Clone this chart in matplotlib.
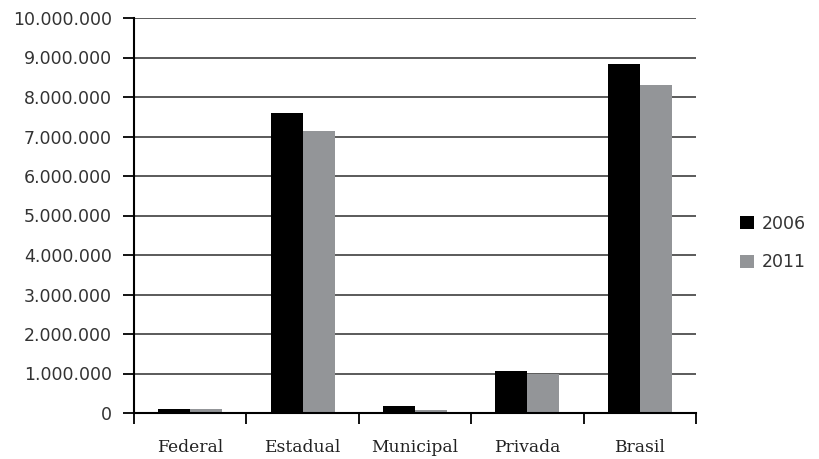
import matplotlib
matplotlib.use("Agg")
import matplotlib.pyplot as plt
from matplotlib.patches import Patch
from matplotlib.ticker import FuncFormatter
import numpy as np

categories = ["Federal", "Estadual", "Municipal", "Privada", "Brasil"]
years = ["2006", "2011"]
values_2006 = [95000, 7590000, 180000, 1060000, 8840000]
values_2011 = [95000, 7140000, 80000, 980000, 8300000]
yticks = list(range(0, 10000001, 1000000))

colors = ["#000000", "#939598"]

fig = plt.figure(figsize=(8.19, 4.59), dpi=100)
W, H = 819, 459
ax = fig.add_axes([134 / W, 1 - 413 / H, (696 - 134) / W, (413 - 18) / H])

x = np.arange(len(categories))
bw = 0.285
ax.bar(x - bw / 2, values_2006, width=bw, color=colors[0], zorder=3)
ax.bar(x + bw / 2, values_2011, width=bw, color=colors[1], zorder=3)

ax.set_xlim(-0.5, len(categories) - 0.5)
ax.set_ylim(0, 10000000)
ax.set_yticks(yticks)
ax.yaxis.set_major_formatter(FuncFormatter(lambda v, p: f"{int(v):,}".replace(",", ".")))
ax.grid(axis="y", color="#4d4d4d", linewidth=1.3, zorder=1)

ax.set_xticks(x)
ax.set_xticklabels(categories, fontfamily="DejaVu Serif", fontsize=12.3, color="#222222")
ax.set_xticks(np.arange(-0.5, len(categories)), minor=True)
ax.tick_params(axis="x", which="major", length=0, pad=19)
ax.tick_params(axis="x", which="minor", length=8, width=1.3, direction="out", color="#000000")
ax.tick_params(axis="y", length=8, width=1.3, direction="out", color="#000000", pad=8,
               labelsize=12.5, labelcolor="#333333")
for lab in ax.get_yticklabels():
    lab.set_fontfamily("DejaVu Sans")

for s in ["top", "right"]:
    ax.spines[s].set_visible(False)
ax.spines["left"].set_linewidth(1.5)
ax.spines["bottom"].set_linewidth(1.5)
ax.spines["left"].set_zorder(4)
ax.spines["bottom"].set_zorder(4)

handles = [Patch(facecolor=colors[0], label=years[0]), Patch(facecolor=colors[1], label=years[1])]
leg = fig.legend(handles=handles, loc="center left", bbox_to_anchor=(724 / W, 1 - 243 / H),
                 frameon=False, fontsize=12.5, handlelength=0.8, handleheight=0.8,
                 handletextpad=0.5, labelspacing=1.2, labelcolor="#333333")

fig.savefig("out.png", dpi=100)
